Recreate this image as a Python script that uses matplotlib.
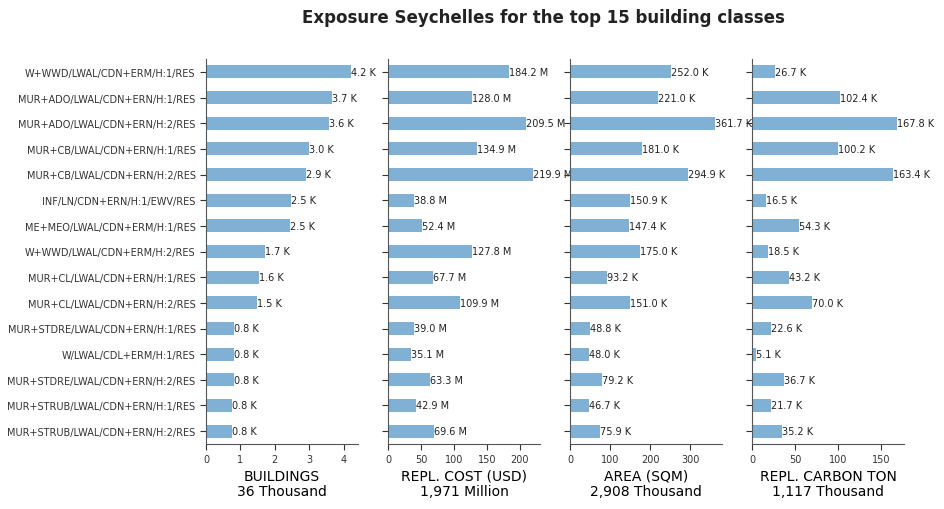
import matplotlib
matplotlib.use("Agg")
import matplotlib.pyplot as plt

# top 15 building classes, top to bottom
classes = [
    "W+WWD/LWAL/CDN+ERM/H:1/RES",
    "MUR+ADO/LWAL/CDN+ERN/H:1/RES",
    "MUR+ADO/LWAL/CDN+ERN/H:2/RES",
    "MUR+CB/LWAL/CDN+ERN/H:1/RES",
    "MUR+CB/LWAL/CDN+ERN/H:2/RES",
    "INF/LN/CDN+ERN/H:1/EWV/RES",
    "ME+MEO/LWAL/CDN+ERM/H:1/RES",
    "W+WWD/LWAL/CDN+ERM/H:2/RES",
    "MUR+CL/LWAL/CDN+ERN/H:1/RES",
    "MUR+CL/LWAL/CDN+ERN/H:2/RES",
    "MUR+STDRE/LWAL/CDN+ERN/H:1/RES",
    "W/LWAL/CDL+ERM/H:1/RES",
    "MUR+STDRE/LWAL/CDN+ERN/H:2/RES",
    "MUR+STRUB/LWAL/CDN+ERN/H:1/RES",
    "MUR+STRUB/LWAL/CDN+ERN/H:2/RES",
]

# buildings in thousands
buildings = [4.21, 3.66, 3.58, 2.99, 2.91, 2.48, 2.45, 1.72, 1.55, 1.49,
             0.80, 0.80, 0.80, 0.77, 0.75]
# replacement cost in million USD
cost = [184.2, 128.0, 209.5, 134.9, 219.9, 38.8, 52.4, 127.8, 67.7, 109.9,
        39.0, 35.1, 63.3, 42.9, 69.6]
# area in thousand sqm
area = [252.0, 221.0, 361.7, 181.0, 294.9, 150.9, 147.4, 175.0, 93.2, 151.0,
        48.8, 48.0, 79.2, 46.7, 75.9]
# carbon in thousand ton
carbon = [26.7, 102.4, 167.8, 100.2, 163.4, 16.5, 54.3, 18.5, 43.2, 70.0,
          22.6, 5.1, 36.7, 21.7, 35.2]

panels = [
    (buildings, "K", "BUILDINGS\n36 Thousand"),
    (cost, "M", "REPL. COST (USD)\n1,971 Million"),
    (area, "K", "AREA (SQM)\n2,908 Thousand"),
    (carbon, "K", "REPL. CARBON TON\n1,117 Thousand"),
]

BAR = "#80b0d4"
DARK = "#333333"

fig = plt.figure(figsize=(9.45, 5.1), dpi=100)
W, H = 945, 510
lefts = [206, 388, 570, 752]
aw, top, bottom = 152, 60, 445

n = len(classes)
ypos = list(range(n))

for k, (vals, unit, xlabel) in enumerate(panels):
    ax = fig.add_axes([lefts[k] / W, 1 - bottom / H, aw / W, (bottom - top) / H])
    ax.barh(ypos, vals, height=0.5, color=BAR)
    ax.set_ylim(n - 0.5, -0.5)
    ax.set_xlim(0, max(vals) * 1.05)
    for i, v in enumerate(vals):
        ax.text(v, i, f"{v:.1f} {unit}", ha="left", va="center",
                fontsize=7, color="#222222")
    ax.set_yticks(ypos)
    if k == 0:
        ax.set_yticklabels(classes, fontsize=7, color="#222222")
    else:
        ax.set_yticklabels([])
    ax.tick_params(axis="x", labelsize=7, colors=DARK, length=4)
    ax.tick_params(axis="y", colors=DARK, length=4)
    ax.set_xlabel(xlabel, fontsize=10, linespacing=1.1, labelpad=3)
    for s in ("top", "right"):
        ax.spines[s].set_visible(False)
    for s in ("left", "bottom"):
        ax.spines[s].set_color("#555555")

fig.text(543 / W, 1 - 18 / H, "Exposure Seychelles for the top 15 building classes",
         ha="center", va="center", fontsize=12, fontweight="bold", color="#222222")

fig.savefig("out.png", dpi=100)
